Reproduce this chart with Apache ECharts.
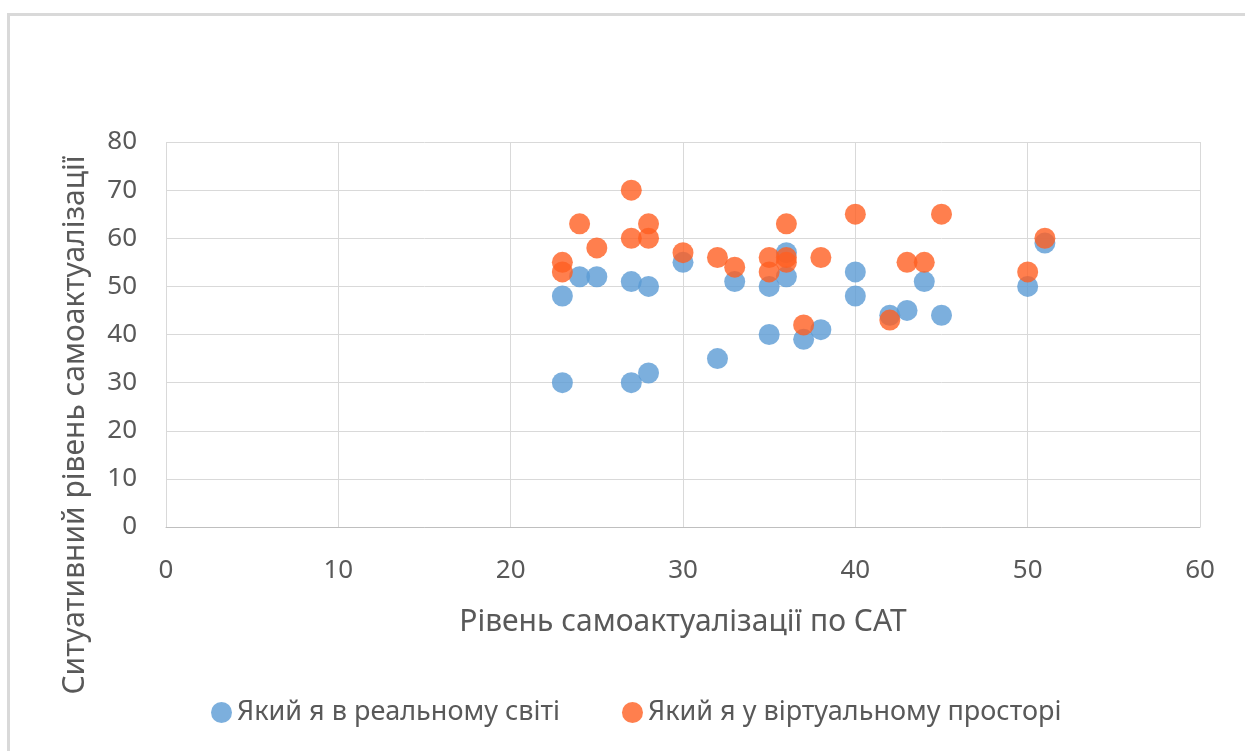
<!DOCTYPE html>
<html>
<head>
<meta charset="utf-8">
<script src="https://cdn.jsdelivr.net/npm/echarts@6/dist/echarts.min.js"></script>
<style>
  html, body { margin: 0; padding: 0; background: #fff; }
  #frame {
    position: absolute; left: 7px; top: 13px; width: 1300px; height: 800px;
    border-top: 3px solid #d9d9d9; border-left: 3px solid #d9d9d9;
  }
  #chart { position: absolute; left: 0; top: 0; width: 1245px; height: 751px; }
</style>
</head>
<body>
<div id="frame"></div>
<div id="chart"></div>
<script>
// дані
var seriesNames = ["Який я в реальному світі", "Який я у віртуальному просторі"];
var realX = [23, 23, 24, 25, 27, 27, 28, 28, 30, 32, 33, 35, 35, 36, 36, 37, 38, 40, 40, 42, 43, 44, 45, 50, 51];
var realY = [48, 30, 52, 52, 51, 30, 50, 32, 55, 35, 51, 50, 40, 57, 52, 39, 41, 53, 48, 44, 45, 51, 44, 50, 59];
var virtX = [23, 23, 24, 25, 27, 27, 28, 28, 30, 32, 33, 35, 35, 36, 36, 36, 37, 38, 40, 42, 43, 44, 45, 50, 51];
var virtY = [55, 53, 63, 58, 70, 60, 63, 60, 57, 56, 54, 56, 53, 63, 56, 55, 42, 56, 65, 43, 55, 55, 65, 53, 60];
var xTitle = "Рівень самоактуалізації по САТ";
var yTitle = "Ситуативний рівень самоактуалізації";

function pairs(xs, ys) {
  var out = [];
  for (var i = 0; i < xs.length; i++) out.push([xs[i], ys[i]]);
  return out;
}

var FONT = "Noto Sans";
var TXT = "#595959";

var myChart = echarts.init(document.getElementById("chart"));
myChart.setOption({
  animation: false,
  color: ["#5b9bd5", "#ff5f22"],
  grid: { left: 166, right: 45, top: 142, bottom: 224 },
  legend: {
    top: 694,
    left: 206,
    itemGap: 62,
    itemWidth: 21,
    itemHeight: 21,
    icon: "circle",
    textStyle: { fontFamily: FONT, fontSize: 27, color: TXT },
    data: seriesNames
  },
  xAxis: {
    type: "value",
    min: 0,
    max: 60,
    interval: 10,
    name: xTitle,
    nameLocation: "middle",
    nameGap: 80,
    nameTextStyle: { fontFamily: FONT, fontSize: 30, color: TXT },
    axisLine: { show: true, lineStyle: { color: "#bfbfbf", width: 1 } },
    axisTick: { show: false },
    axisLabel: { fontFamily: FONT, fontSize: 26, color: TXT, margin: 31 },
    splitLine: { show: true, lineStyle: { color: "#d9d9d9", width: 1 } }
  },
  yAxis: {
    type: "value",
    min: 0,
    max: 80,
    interval: 10,
    axisLine: { show: false },
    axisTick: { show: false },
    axisLabel: { fontFamily: FONT, fontSize: 26, color: TXT, margin: 29 },
    splitLine: { show: true, lineStyle: { color: "#d9d9d9", width: 1 } }
  },
  graphic: [{
    type: "text",
    x: 75,
    y: 425,
    rotation: Math.PI / 2,
    style: {
      text: yTitle,
      fontFamily: FONT,
      fontSize: 30,
      fill: TXT,
      align: "center",
      verticalAlign: "middle"
    }
  }],
  series: [
    {
      name: seriesNames[0],
      type: "scatter",
      symbolSize: 21,
      data: pairs(realX, realY)
    },
    {
      name: seriesNames[1],
      type: "scatter",
      symbolSize: 21,
      data: pairs(virtX, virtY)
    }
  ]
});
</script>
</body>
</html>
